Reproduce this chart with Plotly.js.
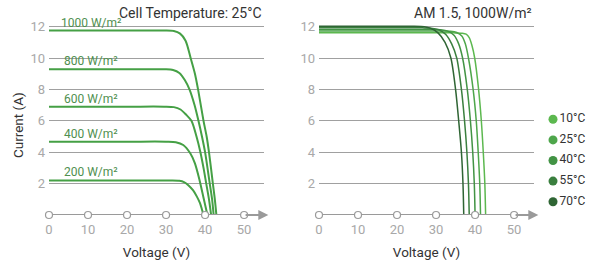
<!DOCTYPE html>
<html><head><meta charset="utf-8">
<script src="https://cdn.plot.ly/plotly-3.0.1.min.js"></script>
<style>body{margin:0;background:#fff}#chart{width:601px;height:261px}</style>
</head><body><div id="chart"></div>
<script>
// ---- axis ticks ----
const xTicks = [0, 10, 20, 30, 40, 50];
const yTicks = [2, 4, 6, 8, 10, 12];

// ---- left chart: irradiance curves (Cell Temperature 25°C) ----
const irrLabels = ['1000 W/m²', '800 W/m²', '600 W/m²', '400 W/m²', '200 W/m²'];
const irrIsc = [11.75, 9.28, 6.9, 4.67, 2.2];
const v1000 = [0, 20, 29.5, 32.0, 33.6, 35.0, 36.3, 37.4, 38.2, 39.6, 40.4, 41.0, 42.0, 42.5, 42.9];
const i1000 = [11.75, 11.75, 11.75, 11.72, 11.55, 11.1, 10.0, 9.0, 8.0, 6.0, 5.0, 4.0, 2.0, 1.0, 0];
const v800 = [0, 20, 29.5, 31.8, 33.4, 34.8, 36.0, 37.3, 38.3, 39.2, 40.0, 41.2, 41.8, 42.2];
const i800 = [9.28, 9.28, 9.28, 9.24, 9.05, 8.6, 8.0, 7.0, 6.0, 5.0, 4.0, 2.0, 1.0, 0];
const v600 = [0, 20, 29.5, 32.0, 33.7, 35.1, 36.5, 37.8, 38.8, 39.6, 40.3, 41.0, 41.55];
const i600 = [6.9, 6.9, 6.9, 6.87, 6.72, 6.4, 6.0, 5.0, 4.0, 3.0, 2.0, 1.0, 0];
const v400 = [0, 20, 30.0, 32.5, 34.4, 36.2, 37.4, 38.6, 39.6, 40.6];
const i400 = [4.67, 4.67, 4.67, 4.64, 4.46, 3.93, 3.29, 2.2, 1.1, 0];
const v200 = [0, 20, 31.0, 33.4, 34.6, 35.7, 36.9, 37.9, 38.7, 39.2, 39.6];
const i200 = [2.2, 2.2, 2.2, 2.18, 2.1, 1.9, 1.58, 1.17, 0.75, 0.35, 0];

// ---- right chart: temperature curves (AM 1.5, 1000W/m²) ----
const tempLabels = ['10°C', '25°C', '40°C', '55°C', '70°C'];
const v10 = [0, 20, 34.5, 36.7, 37.7, 38.5, 39.2, 39.9, 40.9, 41.6, 42.1, 42.5, 42.7];
const i10 = [11.6, 11.6, 11.6, 11.58, 11.52, 11.3, 10.8, 10.0, 8.0, 6.0, 4.0, 2.0, 0];
const v25 = [0, 20, 31.5, 33.7, 35.3, 36.6, 37.5, 38.3, 39.5, 40.3, 40.8, 41.2, 41.4];
const i25 = [11.72, 11.72, 11.72, 11.7, 11.62, 11.4, 10.9, 10.0, 8.0, 6.0, 4.0, 2.0, 0];
const v40 = [0, 18, 29.0, 31.2, 33.0, 34.6, 35.8, 36.8, 38.0, 38.8, 39.4, 39.8, 40.0];
const i40 = [11.82, 11.82, 11.82, 11.8, 11.71, 11.45, 10.9, 10.0, 8.0, 6.0, 4.0, 2.0, 0];
const v55 = [0, 16, 26.5, 28.7, 30.7, 32.5, 34.0, 35.3, 36.5, 37.3, 37.9, 38.3, 38.5];
const i55 = [11.92, 11.92, 11.92, 11.9, 11.8, 11.5, 10.9, 10.0, 8.0, 6.0, 4.0, 2.0, 0];
const v70 = [0, 14, 24.0, 26.2, 28.5, 30.5, 32.3, 33.8, 35.0, 35.8, 36.5, 36.9, 37.1];
const i70 = [12.02, 12.02, 12.02, 12.0, 11.9, 11.6, 11.0, 10.0, 8.0, 6.0, 4.0, 2.0, 0];

const leftColor = '#45a045';
const labelColor = '#4f8f4f';
const tempColors = ['#5cb84f', '#4ea64b', '#429344', '#3a7f3e', '#2f6534'];
const axisGray = '#9a9a9a';
const FONT = 'Roboto, "Open Sans", sans-serif';

const irrV = [v1000, v800, v600, v400, v200];
const irrI = [i1000, i800, i600, i400, i200];
const tempV = [v10, v25, v40, v55, v70];
const tempI = [i10, i25, i40, i55, i70];

const traces = [];
irrV.forEach((v, k) => traces.push({
  x: v, y: irrI[k], xaxis: 'x', yaxis: 'y', mode: 'lines', name: irrLabels[k],
  line: {color: leftColor, width: 2, shape: 'spline', smoothing: 0.8},
  cliponaxis: false, hoverinfo: 'skip'
}));
tempV.forEach((v, k) => traces.push({
  x: v, y: tempI[k], xaxis: 'x2', yaxis: 'y2', mode: 'lines', name: tempLabels[k],
  line: {color: tempColors[k], width: 1.5, shape: 'spline', smoothing: 0.8},
  cliponaxis: false, hoverinfo: 'skip'
}));
// axis baselines with open circles at ticks
['x', 'x2'].forEach((xa, k) => traces.push({
  x: xTicks, y: xTicks.map(() => 0), xaxis: xa, yaxis: k ? 'y2' : 'y',
  mode: 'lines+markers', cliponaxis: false, hoverinfo: 'skip',
  line: {color: axisGray, width: 2},
  marker: {symbol: 'circle', size: 7, color: '#ffffff', line: {color: axisGray, width: 1.2}}
}));
// legend column
traces.push({
  x: tempLabels.map(() => 0), y: tempLabels, xaxis: 'x3', yaxis: 'y3',
  mode: 'markers+text', text: tempLabels, textposition: 'middle right',
  textfont: {family: FONT, size: 12, color: '#333333'},
  marker: {size: 9, color: tempColors}, cliponaxis: false, hoverinfo: 'skip'
});

const xBase = {
  range: [0, 55.1], tickvals: xTicks, showgrid: false, zeroline: false, showline: false,
  ticks: '', ticklabelstandoff: 5, tickfont: {family: FONT, size: 13, color: '#a8a8a8'},
  title: {text: 'Voltage (V)', font: {family: FONT, size: 13.5, color: '#333333'}, standoff: 11},
  fixedrange: true
};
const yBase = {
  range: [0, 12.42], tickvals: yTicks, showgrid: true, gridcolor: '#a0a0a0', gridwidth: 1,
  zeroline: false, showline: false, ticks: '', ticklabelstandoff: 3,
  tickfont: {family: FONT, size: 13, color: '#a8a8a8'}, fixedrange: true
};

const annotations = [];
irrLabels.forEach((t, k) => annotations.push({
  xref: 'x', yref: 'y', x: 10.8, y: irrIsc[k], text: t, showarrow: false,
  xanchor: 'center', yanchor: 'bottom', yshift: -1,
  font: {family: FONT, size: 12, color: labelColor}
}));
annotations.push({
  xref: 'x', yref: 'paper', x: 55.1, y: 0.985, text: 'Cell Temperature: 25°C', showarrow: false,
  xanchor: 'right', yanchor: 'bottom', font: {family: FONT, size: 14, color: '#333333'}
});
annotations.push({
  xref: 'x2', yref: 'paper', x: 55.1, y: 0.985, text: 'AM 1.5, 1000W/m²', showarrow: false,
  xanchor: 'right', yanchor: 'bottom', font: {family: FONT, size: 14, color: '#333333'}
});
annotations.push({
  xref: 'paper', yref: 'paper', x: -0.056, y: 0.4615, text: 'Current (A)', showarrow: false,
  textangle: -90, xanchor: 'center', yanchor: 'middle', font: {family: FONT, size: 13.5, color: '#333333'}
});
[['x', 'y'], ['x2', 'y2']].forEach(([xa, ya]) => annotations.push({
  xref: xa, yref: ya, x: 56.2, y: 0, axref: xa, ayref: ya, ax: 50, ay: 0, text: '',
  showarrow: true, arrowhead: 2, arrowsize: 1, arrowwidth: 2, arrowcolor: axisGray, standoff: 0
}));

const layout = {
  width: 601, height: 261,
  margin: {l: 49, r: 0, t: 20, b: 46},
  paper_bgcolor: '#ffffff', plot_bgcolor: 'rgba(0,0,0,0)',
  showlegend: false,
  font: {family: FONT, size: 13, color: '#a8a8a8'},
  xaxis: Object.assign({}, xBase, {domain: [0, 215 / 552], anchor: 'y'}),
  yaxis: Object.assign({}, yBase, {anchor: 'x'}),
  xaxis2: Object.assign({}, xBase, {domain: [270 / 552, 485 / 552], anchor: 'y2'}),
  yaxis2: Object.assign({}, yBase, {anchor: 'x2'}),
  xaxis3: {domain: [0.8986, 0.9275], range: [-1, 1], visible: false, anchor: 'y3', fixedrange: true},
  yaxis3: {domain: [0.0154, 0.5436], range: [4.5, -0.5], type: 'category', visible: false, anchor: 'x3', fixedrange: true},
  annotations: annotations
};

Plotly.newPlot('chart', traces, layout, {displayModeBar: false, staticPlot: true});
</script>
</body></html>
